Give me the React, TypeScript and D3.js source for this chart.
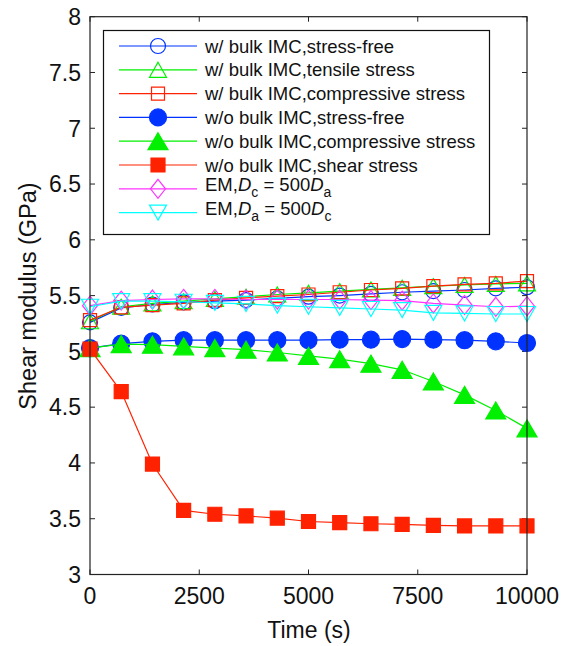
import React from "react";
import * as d3 from "d3";

const times = [0, 714, 1429, 2143, 2857, 3571, 4286, 5000, 5714, 6429, 7143, 7857, 8571, 9286, 10000];

const wBulkStressFree = [5.26, 5.39, 5.42, 5.44, 5.45, 5.46, 5.475, 5.49, 5.5, 5.515, 5.53, 5.54, 5.55, 5.565, 5.575];
const wBulkTensile = [5.27, 5.4, 5.43, 5.45, 5.47, 5.49, 5.51, 5.525, 5.54, 5.555, 5.57, 5.585, 5.595, 5.605, 5.61];
const wBulkCompressive = [5.28, 5.395, 5.415, 5.43, 5.46, 5.48, 5.495, 5.51, 5.53, 5.55, 5.565, 5.585, 5.6, 5.61, 5.63];
const woBulkStressFree = [5.03, 5.07, 5.09, 5.1, 5.1, 5.1, 5.1, 5.1, 5.105, 5.105, 5.11, 5.105, 5.1, 5.09, 5.075];
const woBulkCompressive = [5.03, 5.065, 5.06, 5.045, 5.03, 5.015, 4.99, 4.96, 4.93, 4.89, 4.835, 4.73, 4.61, 4.47, 4.31];
const woBulkShear = [5.02, 4.64, 3.99, 3.575, 3.54, 3.525, 3.505, 3.475, 3.465, 3.455, 3.45, 3.44, 3.435, 3.435, 3.435];
const emDcFast = [5.41, 5.455, 5.465, 5.47, 5.47, 5.465, 5.465, 5.465, 5.465, 5.46, 5.455, 5.43, 5.415, 5.4, 5.405];
const emDaFast = [5.4, 5.45, 5.45, 5.445, 5.435, 5.425, 5.41, 5.4, 5.39, 5.38, 5.37, 5.345, 5.34, 5.335, 5.335];

const xTicks = [0, 2500, 5000, 7500, 10000];
const yTicks = [3, 3.5, 4, 4.5, 5, 5.5, 6, 6.5, 7, 7.5, 8];

type Marker = "circle" | "triUp" | "square" | "diamond" | "triDown";
interface Series {
  values: number[];
  color: string;
  marker: Marker;
  filled: boolean;
  label: string;
}

const BLUE = "#0033FF";
const GREEN = "#00F000";
const RED = "#FF2200";
const MAGENTA = "#FF33FF";
const CYAN = "#00FFFF";

const series: Series[] = [
  { values: wBulkStressFree, color: BLUE, marker: "circle", filled: false, label: "w/ bulk IMC,stress-free" },
  { values: wBulkTensile, color: GREEN, marker: "triUp", filled: false, label: "w/ bulk IMC,tensile stress" },
  { values: wBulkCompressive, color: RED, marker: "square", filled: false, label: "w/ bulk IMC,compressive stress" },
  { values: woBulkStressFree, color: BLUE, marker: "circle", filled: true, label: "w/o bulk IMC,stress-free" },
  { values: woBulkCompressive, color: GREEN, marker: "triUp", filled: true, label: "w/o bulk IMC,compressive stress" },
  { values: woBulkShear, color: RED, marker: "square", filled: true, label: "w/o bulk IMC,shear stress" },
  { values: emDcFast, color: MAGENTA, marker: "diamond", filled: false, label: "EM,Dc" },
  { values: emDaFast, color: CYAN, marker: "triDown", filled: false, label: "EM,Da" },
];

const W = 562;
const H = 646;
const left = 90;
const right = 527;
const top = 16.7;
const bottom = 574.5;
const FONT = "'Liberation Sans', Arial, sans-serif";
const TXT = "#111";

const x = d3.scaleLinear().domain([0, 10000]).range([left, right]);
const y = d3.scaleLinear().domain([3, 8]).range([bottom, top]);

function markerPath(m: Marker, filled: boolean): string {
  switch (m) {
    case "circle": {
      const r = filled ? 8.5 : 7.5;
      return `M${-r},0A${r},${r} 0 1,0 ${r},0A${r},${r} 0 1,0 ${-r},0Z`;
    }
    case "triUp": {
      const w = filled ? 20 : 17;
      const h = filled ? 17 : 15;
      return `M0,${-h / 2}L${w / 2},${h / 2}L${-w / 2},${h / 2}Z`;
    }
    case "triDown": {
      const w = 17, h = 15;
      return `M0,${h / 2}L${w / 2},${-h / 2}L${-w / 2},${-h / 2}Z`;
    }
    case "square": {
      const s = filled ? 14 : 13;
      return `M${-s / 2},${-s / 2}h${s}v${s}h${-s}Z`;
    }
    case "diamond": {
      const w = 15, h = 19;
      return `M0,${-h / 2}L${w / 2},0L0,${h / 2}L${-w / 2},0Z`;
    }
  }
}

function MarkerShape({ s, cx, cy }: { s: Series; cx: number; cy: number }) {
  return (
    <path
      d={markerPath(s.marker, s.filled)}
      transform={`translate(${cx},${cy})`}
      fill={s.filled ? s.color : "none"}
      stroke={s.color}
      strokeWidth={1.2}
    />
  );
}

function LegendLabel({ s, ty }: { s: Series; ty: number }) {
  const tx = 205;
  if (s.label === "EM,Dc" || s.label === "EM,Da") {
    const a = s.label === "EM,Dc" ? "c" : "a";
    const b = s.label === "EM,Dc" ? "a" : "c";
    return (
      <text x={tx} y={ty + 2} fontSize={18.5} fontFamily={FONT} fill={TXT}>
        EM,<tspan fontStyle="italic">D</tspan>
        <tspan fontSize={14} dy={6}>{a}</tspan>
        <tspan dy={-6}> = 500</tspan>
        <tspan fontStyle="italic">D</tspan>
        <tspan fontSize={14} dy={6}>{b}</tspan>
      </text>
    );
  }
  return (
    <text x={tx} y={ty + 6.5} fontSize={18.5} fontFamily={FONT} fill={TXT}>
      {s.label}
    </text>
  );
}

export default function App() {
  const line = d3
    .line<number>()
    .x((_, i) => x(times[i]))
    .y((v) => y(v));

  const legendTop = 46;
  const legendStep = 23.8;

  return (
    <svg width={W} height={H} style={{ position: "absolute", left: 0, top: 0, background: "#fff" }}>
      <rect x={0} y={0} width={W} height={H} fill="#fff" />
      {xTicks.map((t) => (
        <g key={"xt" + t}>
          <line x1={x(t)} x2={x(t)} y1={bottom} y2={bottom - 5} stroke="#222" strokeWidth={1} />
          <line x1={x(t)} x2={x(t)} y1={top} y2={top + 5} stroke="#222" strokeWidth={1} />
          <text x={x(t)} y={604} textAnchor="middle" fontSize={23} fontFamily={FONT} fill={TXT}>
            {t}
          </text>
        </g>
      ))}
      {yTicks.map((t) => (
        <g key={"yt" + t}>
          <line x1={left} x2={left + 5} y1={y(t)} y2={y(t)} stroke="#222" strokeWidth={1} />
          <line x1={right} x2={right - 5} y1={y(t)} y2={y(t)} stroke="#222" strokeWidth={1} />
          <text x={81} y={y(t)} dy="0.36em" textAnchor="end" fontSize={23} fontFamily={FONT} fill={TXT}>
            {t}
          </text>
        </g>
      ))}
      {series.map((s, si) => (
        <g key={"s" + si}>
          <path d={line(s.values) || ""} fill="none" stroke={s.color} strokeWidth={1.2} />
          {s.values.map((v, i) => (
            <MarkerShape key={i} s={s} cx={x(times[i])} cy={y(v)} />
          ))}
        </g>
      ))}
      <rect x={left} y={top} width={right - left} height={bottom - top} fill="none" stroke="#222" strokeWidth={1.2} />
      <rect x={103.5} y={30.5} width={386} height={204} fill="#fff" stroke="#111" strokeWidth={1.2} />
      {series.map((s, i) => {
        const ly = legendTop + i * legendStep;
        return (
          <g key={"lg" + i}>
            <line x1={119} x2={197} y1={ly} y2={ly} stroke={s.color} strokeWidth={1.2} />
            <MarkerShape s={s} cx={158} cy={ly} />
            <LegendLabel s={s} ty={ly} />
          </g>
        );
      })}
      <text x={309} y={638} textAnchor="middle" fontSize={23} fontFamily={FONT} fill={TXT}>
        Time (s)
      </text>
      <text
        transform={`translate(36,296) rotate(-90)`}
        textAnchor="middle"
        fontSize={23.5}
        fontFamily={FONT}
        fill={TXT}
      >
        Shear modulus (GPa)
      </text>
    </svg>
  );
}
